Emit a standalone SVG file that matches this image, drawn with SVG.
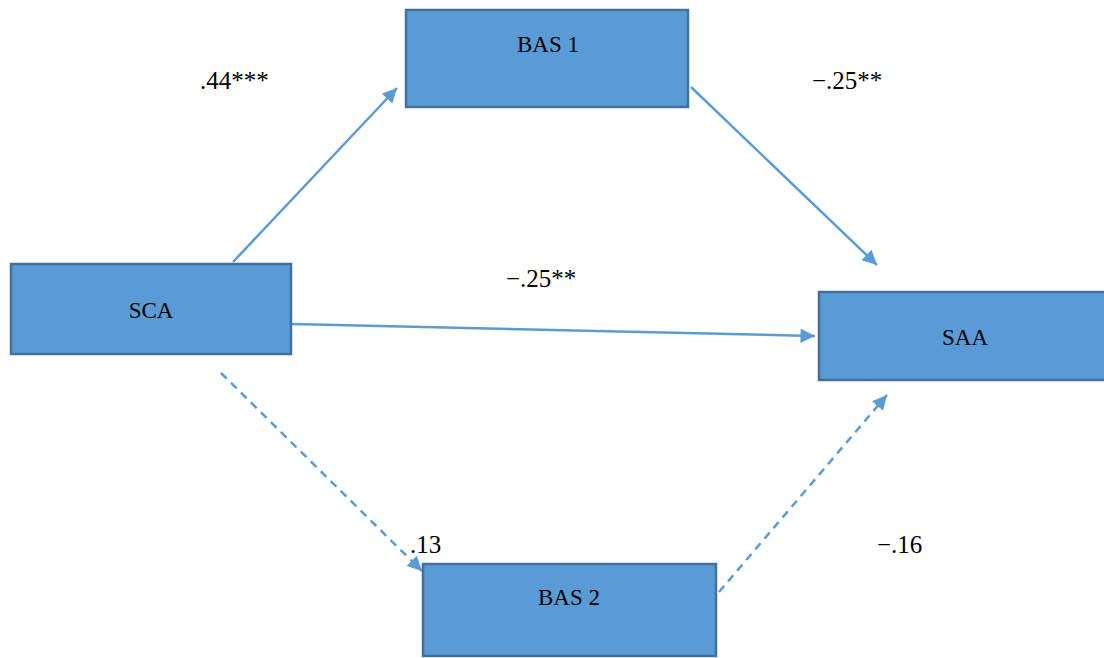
<svg xmlns="http://www.w3.org/2000/svg" width="1104" height="658" viewBox="0 0 1104 658">
<style>
.box{fill:#5B9BD5;stroke:#41719C;stroke-width:2.5}
text{font-family:'Liberation Serif','Times New Roman',Times,serif;fill:#000}
.lbl{font-size:23px;text-anchor:middle}
.num{font-size:25px}
.edge{stroke:#5B9BD5;stroke-width:2.5;fill:none}
.dash{stroke-dasharray:8 6}
</style>
<defs>
<marker id="ah" viewBox="0 0 10 10" refX="10" refY="5" markerWidth="6.4" markerHeight="5.8" markerUnits="strokeWidth" orient="auto">
<path d="M0,0 L10,5 L0,10 z" fill="#5B9BD5"/>
</marker>
</defs>
<rect width="1104" height="658" fill="#fff"/>
<g id="connectors">
<line class="edge" x1="233" y1="262" x2="397" y2="88" marker-end="url(#ah)"/>
<line class="edge" x1="691" y1="87" x2="877" y2="265" marker-end="url(#ah)"/>
<line class="edge" x1="292" y1="324" x2="815" y2="336" marker-end="url(#ah)"/>
<line class="edge dash" x1="221" y1="373" x2="422" y2="571" marker-end="url(#ah)"/>
<line class="edge dash" x1="719" y1="592" x2="887" y2="395" marker-end="url(#ah)"/>
</g>
<g id="edge-labels" font-family="Liberation Serif, serif">
<text class="num" x="200" y="89">.44***</text>
<text class="num" x="812" y="89">−.25**</text>
<text class="num" x="506" y="287">−.25**</text>
<text class="num" x="410" y="553">.13</text>
<text class="num" x="877" y="553">−.16</text>
</g>
<g id="node-bas1">
<rect class="box" x="406" y="10" width="282" height="97"/>
<text class="lbl" x="548" y="52">BAS 1</text>
</g>
<g id="node-sca">
<rect class="box" x="11" y="264" width="280" height="90"/>
<text class="lbl" x="151" y="318">SCA</text>
</g>
<g id="node-saa">
<rect class="box" x="819" y="292" width="290" height="88"/>
<text class="lbl" x="965" y="345">SAA</text>
</g>
<g id="node-bas2">
<rect class="box" x="423" y="564" width="293" height="92"/>
<text class="lbl" x="569" y="605">BAS 2</text>
</g>
</svg>
